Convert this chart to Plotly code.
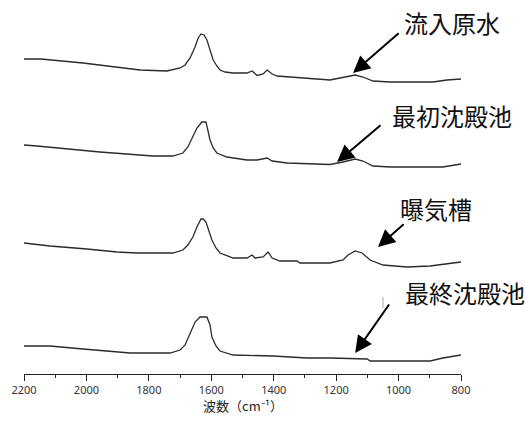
import plotly.graph_objects as go

# IR spectra (wavenumber in cm^-1, absorbance with vertical offsets per sample)
wn_influent = [2200, 2146, 2011, 1828, 1742, 1707, 1700, 1684, 1668, 1652, 1642, 1633, 1623, 1614,
               1604, 1594, 1582, 1572, 1556, 1530, 1486, 1469, 1453, 1434, 1421, 1405, 1389, 1274,
               1220, 1155, 1139, 1114, 1082, 1027, 890, 845, 800]
ab_influent = [3.15, 3.15, 3.11, 3.04, 3.03, 3.05, 3.06, 3.09, 3.16, 3.27, 3.36, 3.40, 3.39, 3.34,
               3.24, 3.14, 3.08, 3.04, 3.02, 3.01, 3.01, 3.03, 2.985, 3.00, 3.04, 3.00, 2.98, 2.95,
               2.94, 2.98, 2.99, 2.97, 2.93, 2.92, 2.92, 2.94, 2.95]

wn_primary = [2200, 2158, 1957, 1787, 1723, 1691, 1675, 1659, 1646, 1630, 1617, 1604, 1594, 1582,
              1550, 1486, 1453, 1421, 1405, 1357, 1274, 1220, 1178, 1139, 1114, 1082, 1027, 858, 800]
ab_primary = [2.29, 2.28, 2.22, 2.18, 2.18, 2.21, 2.27, 2.37, 2.46, 2.52, 2.52, 2.34, 2.26, 2.21,
              2.17, 2.14, 2.14, 2.16, 2.13, 2.11, 2.10, 2.095, 2.12, 2.15, 2.13, 2.08, 2.07, 2.07, 2.10]

wn_aeration = [2200, 2117, 1998, 1902, 1838, 1723, 1691, 1675, 1659, 1646, 1633, 1626, 1617, 1607,
               1598, 1585, 1572, 1530, 1486, 1469, 1460, 1434, 1418, 1405, 1380, 1325, 1316, 1220,
               1178, 1162, 1139, 1117, 1091, 1050, 973, 899, 845, 800]
ab_aeration = [1.31, 1.28, 1.25, 1.22, 1.21, 1.21, 1.24, 1.29, 1.37, 1.47, 1.55, 1.55, 1.52, 1.42,
               1.34, 1.26, 1.21, 1.16, 1.16, 1.19, 1.16, 1.17, 1.22, 1.16, 1.13, 1.13, 1.11, 1.11,
               1.14, 1.19, 1.23, 1.21, 1.14, 1.09, 1.07, 1.08, 1.10, 1.12]

wn_final = [2200, 2117, 2011, 1860, 1732, 1700, 1684, 1668, 1652, 1636, 1614, 1604, 1598, 1585,
            1572, 1530, 1402, 1293, 1220, 1101, 1091, 899, 858, 800]
ab_final = [0.28, 0.28, 0.25, 0.21, 0.21, 0.24, 0.29, 0.41, 0.52, 0.57, 0.57, 0.49, 0.37, 0.28,
            0.23, 0.19, 0.18, 0.16, 0.16, 0.15, 0.13, 0.13, 0.16, 0.19]

# Sample labels with arrow tip / tail positions (wavenumber, absorbance) and label anchor
labels = ["流入原水", "最初沈殿池", "曝気槽", "最終沈殿池"]
tip_wn = [1146, 1197, 1066, 1139]
tip_ab = [3.01, 2.12, 1.27, 0.21]
tail_wn = [995, 1053, 979, 1027]
tail_ab = [3.42, 2.50, 1.51, 0.71]
label_wn = [989, 1027, 1002, 986]
label_ab = [3.52, 2.59, 1.66, 0.82]

series = [(wn_influent, ab_influent), (wn_primary, ab_primary),
          (wn_aeration, ab_aeration), (wn_final, ab_final)]

line_color = "#2b2b2b"
cjk_font = "Noto Sans CJK JP"

fig = go.Figure()
for (wn, ab), name in zip(series, labels):
    fig.add_trace(go.Scatter(x=wn, y=ab, mode="lines", name=name,
                             line=dict(color=line_color, width=1.3), showlegend=False))

for i, name in enumerate(labels):
    # arrow pointing to the feature
    fig.add_annotation(x=tip_wn[i], y=tip_ab[i], ax=tail_wn[i], ay=tail_ab[i],
                       xref="x", yref="y", axref="x", ayref="y", text="",
                       showarrow=True, arrowhead=2, arrowsize=1.7, arrowwidth=2,
                       arrowcolor="#000000", standoff=0)
    # sample name
    fig.add_annotation(x=label_wn[i], y=label_ab[i], xref="x", yref="y", text=name,
                       showarrow=False, xanchor="left", yanchor="middle",
                       font=dict(family=cjk_font, size=24, color="#111111"))

# small stray tick mark near the last label
fig.add_shape(type="line", x0=1050, x1=1050, y0=0.66, y1=0.77, xref="x", yref="y",
              line=dict(color="#aaaaaa", width=1))

# x-axis title placed just under the tick labels
fig.add_annotation(x=0.5, y=-0.085, xref="paper", yref="paper", showarrow=False,
                   text="波数（cm⁻¹）", xanchor="center", yanchor="middle",
                   font=dict(family=cjk_font, size=13, color="#222222"))

fig.update_layout(
    width=526, height=421,
    margin=dict(l=24, r=65, t=0, b=47),
    paper_bgcolor="white", plot_bgcolor="white",
    xaxis=dict(range=[2200, 800], autorange=False, dtick=200, tick0=800,
               showgrid=False, zeroline=False, showline=True, linecolor="#222222", linewidth=1,
               ticks="outside", ticklen=6, tickwidth=1, tickcolor="#222222",
               minor=dict(dtick=100, ticks="outside", ticklen=3, tickwidth=1, tickcolor="#222222"),
               tickfont=dict(family="Noto Sans", size=11, color="#333333")),
    yaxis=dict(range=[0, 3.74], autorange=False, visible=False),
)

fig.write_html("out.html")
